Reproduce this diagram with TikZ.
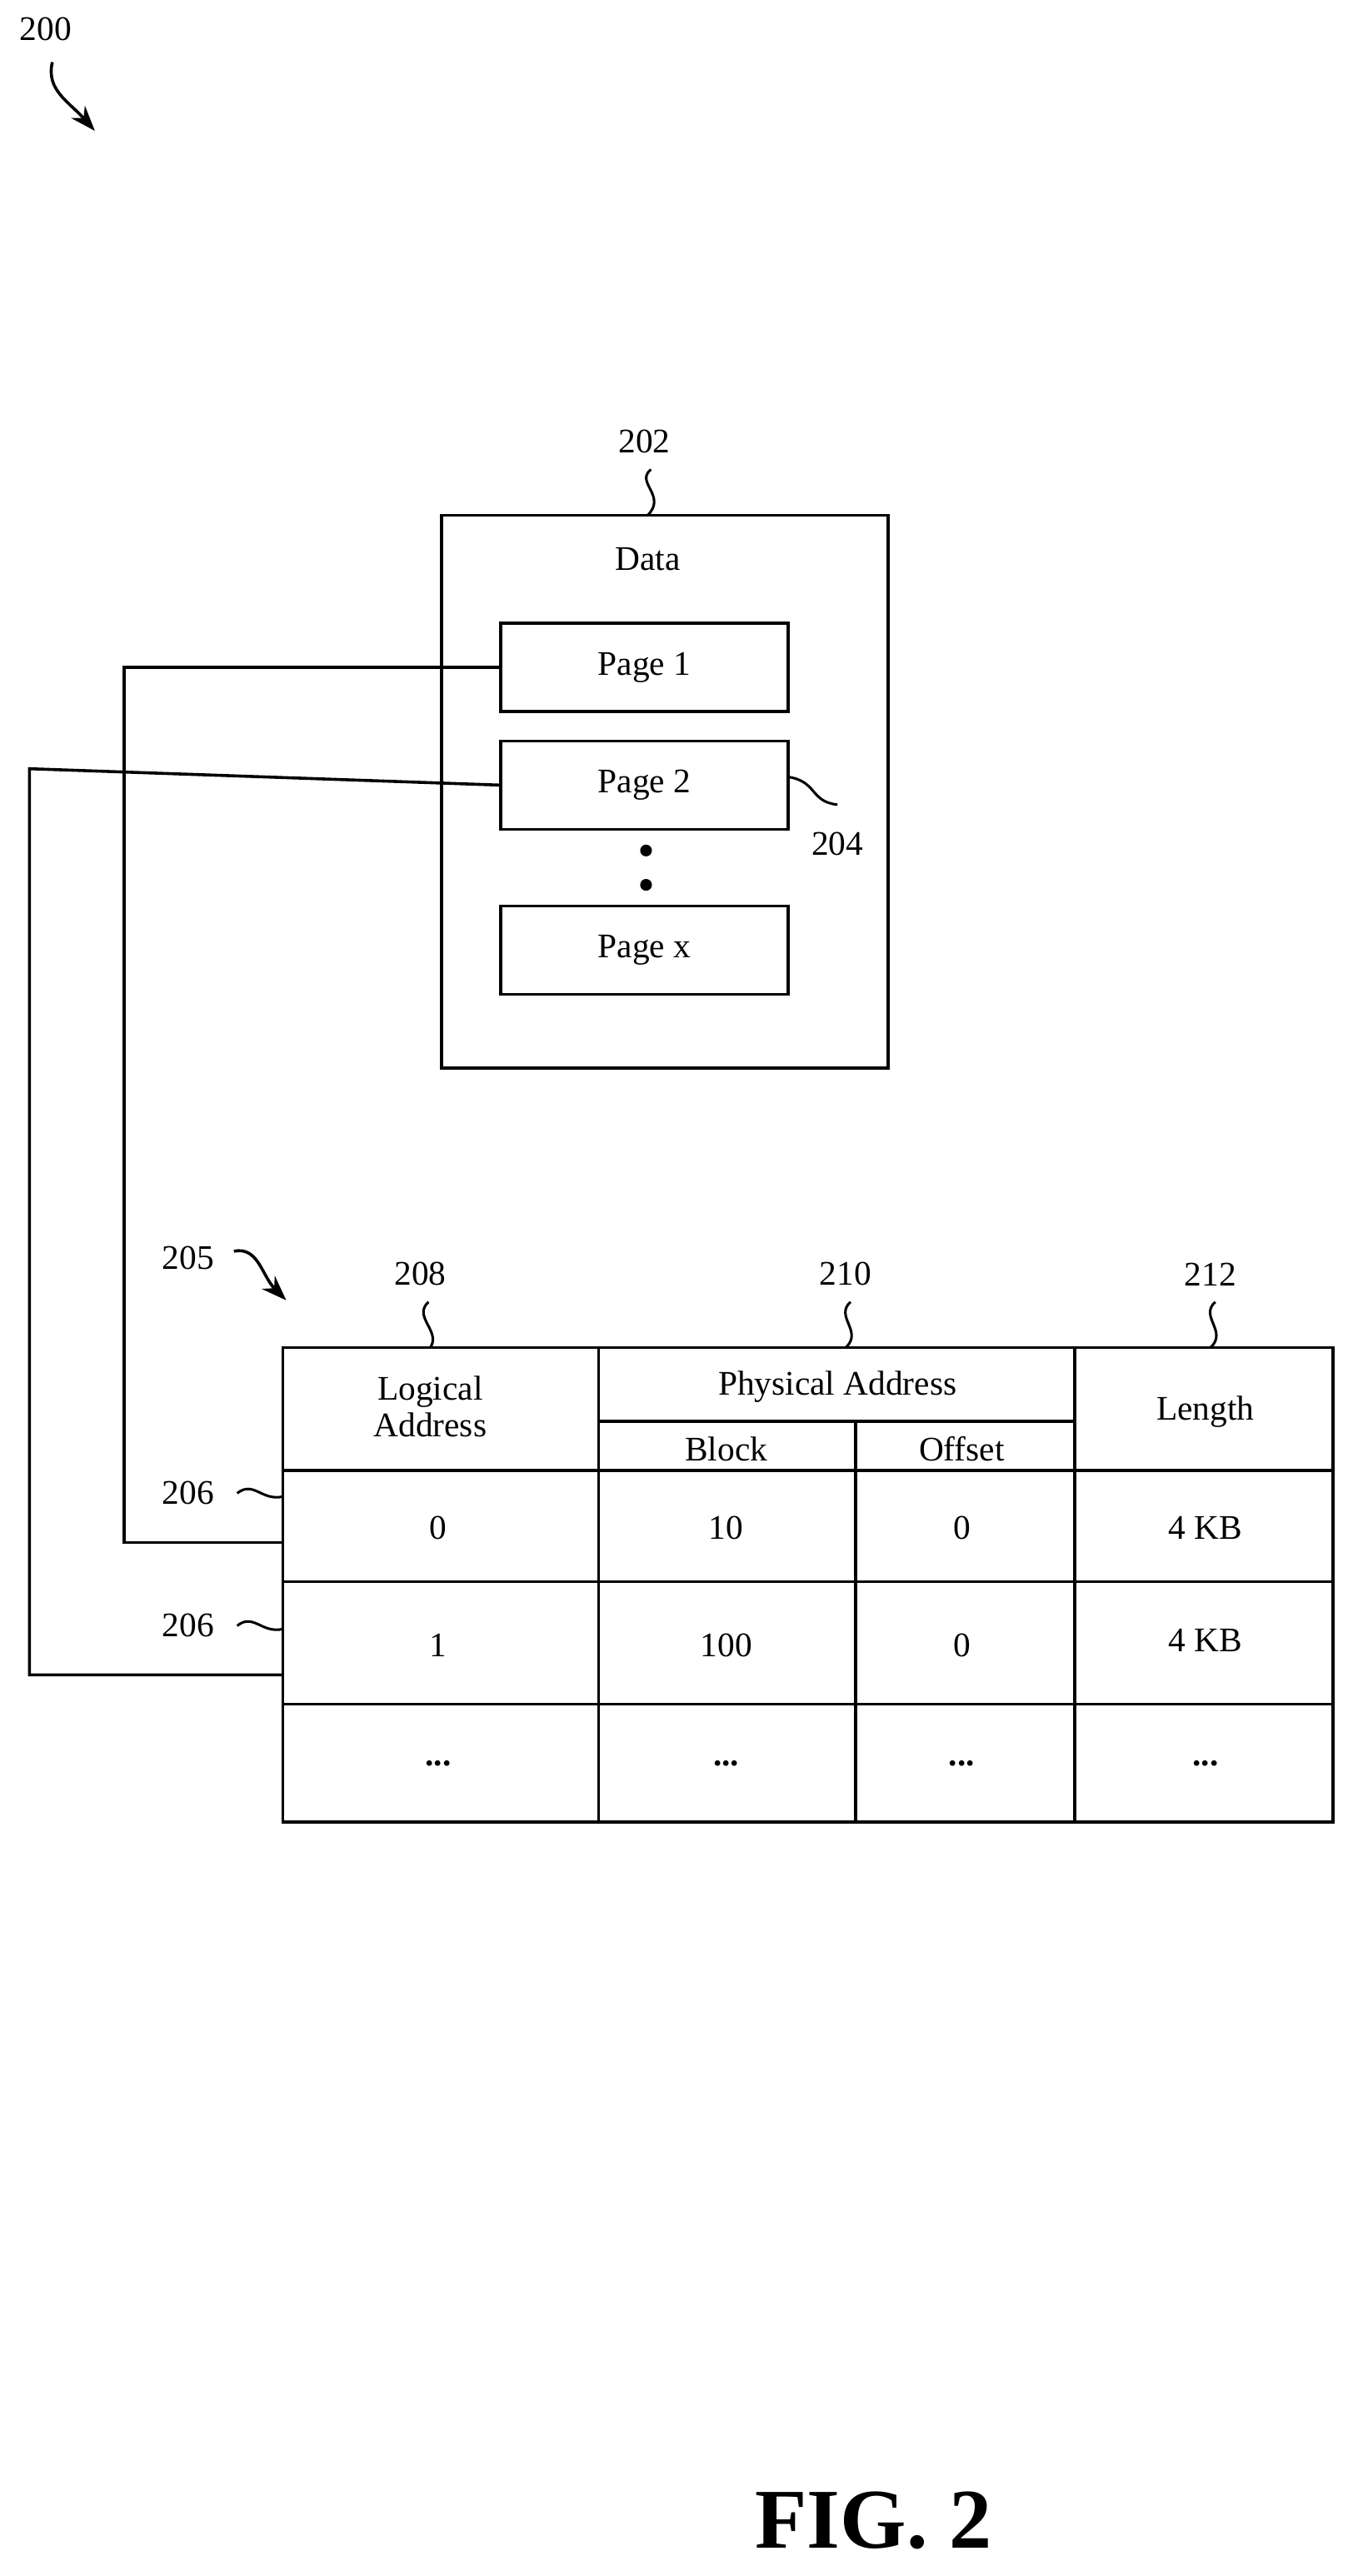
\documentclass[tikz,border=0pt]{standalone}
\usepackage{fontspec}
\setmainfont{Liberation Serif}
\usetikzlibrary{arrows.meta}
\begin{document}
\begin{tikzpicture}[x=0.05cm,y=-0.05cm,line width=2.6pt,
  lbl/.style={font=\fontsize{30}{34}\selectfont,inner sep=0},
  box/.style={draw,minimum width=176*0.05cm,minimum height=54*0.05cm,inner sep=0,font=\fontsize{30}{34}\selectfont},
  sq/.style={line width=2.2pt},
  arr/.style={line width=2.6pt,-{Stealth[length=22pt,width=16pt]}}]
\useasboundingbox (0,0) rectangle (830,1575);
% 200
\node[lbl] (l200) at (28,18) {200};
\draw[arr] (32,38) .. controls (28,55) and (42,62) .. (58,80);
% data box
\node[draw,minimum width=273*0.05cm,minimum height=338*0.05cm,inner sep=0] (data) at (406.5,484) {};
\node[lbl] (datat) at (396,342) {Data};
\node[lbl] (l202) at (394,270) {202};
\draw[sq] (398,287) .. controls (388,295) and (408,303) .. (396,315);
\node[box] (p1) at (394,408) {Page 1};
\node[box] (p2) at (394,480) {Page 2};
\node[box] (px) at (394,581) {Page x};
\fill (395,520) circle (3.6);
\fill (395,541) circle (3.6);
\node[lbl] (l204) at (512,516) {204};
\draw[sq] (482,475) .. controls (500,478) and (495,490) .. (512,492);
% table
\draw (173,824) rectangle (815,1114);
\foreach \x in {366,523,657} \draw (\x,869) -- (\x,1114);
\draw (366,824) -- (366,869);
\draw (657,824) -- (657,869);
\draw (366,869) -- (657,869);
\draw (173,899) -- (815,899);
\draw (173,967) -- (815,967);
\draw (173,1042) -- (815,1042);
\node[lbl,align=center] (la) at (263,860) {Logical\\[-2pt]Address};
\node[lbl] (pa) at (512,848) {Physical Address};
\node[lbl] (bl) at (444,886) {Block};
\node[lbl] (of) at (588,886) {Offset};
\node[lbl] (le) at (737,863) {Length};
\node[lbl] (a1) at (268,934) {0};
\node[lbl] (b1) at (444,934) {10};
\node[lbl] (c1) at (588,934) {0};
\node[lbl] (d1) at (737,934) {4 KB};
\node[lbl] (a2) at (268,1006) {1};
\node[lbl] (b2) at (444,1006) {100};
\node[lbl] (c2) at (588,1006) {0};
\node[lbl] (d2) at (737,1003) {4 KB};
\foreach \x/\n in {268/a3,444/b3,588/c3,737/d3} \node[lbl,font=\bfseries\fontsize{30}{34}\selectfont] (\n) at (\x,1078) {...};
\coordinate (r1) at (173,943);
\coordinate (r2) at (173,1024);
\draw (p1.west) -- (76,408) -- (76,943) -- (r1);
\draw (p2.west) -- (18,470) -- (18,1024) -- (r2);
% labels
\node[lbl] (l205) at (115,769) {205};
\draw[arr] (143,765) .. controls (158,762) and (160,780) .. (175,795);
\node[lbl] (l208) at (257,779) {208};
\draw[sq] (262,796) .. controls (252,805) and (270,814) .. (263,824);
\node[lbl] (l210) at (517,779) {210};
\draw[sq] (520,796) .. controls (510,805) and (528,814) .. (517,824);
\node[lbl] (l212) at (740,779) {212};
\draw[sq] (743,796) .. controls (733,805) and (751,814) .. (740,824);
\node[lbl] (l206a) at (115,913) {206};
\draw[sq] (145,913) .. controls (155,905) and (160,918) .. (173,915);
\node[lbl] (l206b) at (115,994) {206};
\draw[sq] (145,994) .. controls (155,986) and (160,999) .. (173,996);
\node[font=\bfseries\fontsize{74}{80}\selectfont,inner sep=0] (fig) at (534,1541) {FIG. 2};
\end{tikzpicture}
\end{document}
